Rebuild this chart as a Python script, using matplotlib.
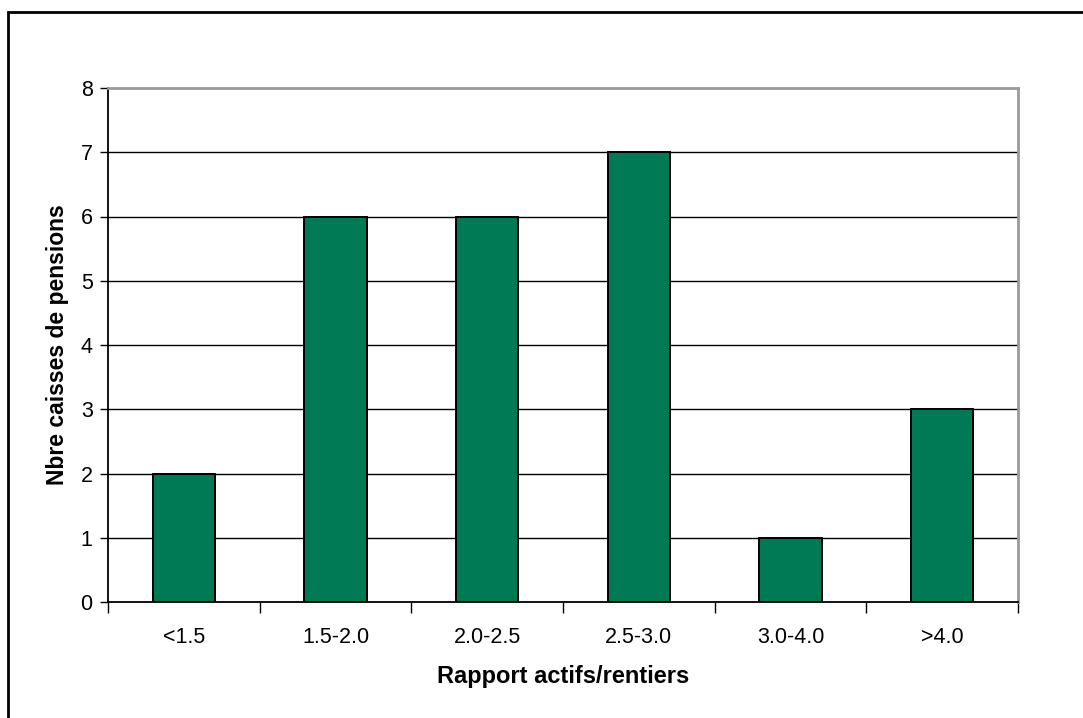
import matplotlib
matplotlib.use("Agg")
import matplotlib.pyplot as plt
from matplotlib.patches import Rectangle
import numpy as np

categories = ["<1.5", "1.5-2.0", "2.0-2.5", "2.5-3.0", "3.0-4.0", ">4.0"]
counts = [2, 6, 6, 7, 1, 3]
y_ticks = [0, 1, 2, 3, 4, 5, 6, 7, 8]

plt.rcParams["font.family"] = ["Liberation Sans", "DejaVu Sans"]

W, H = 1083, 718
fig = plt.figure(figsize=(W / 100, H / 100), dpi=100)

# outer chart frame (open towards the right and bottom edges)
fig.patches.append(Rectangle((8 / W, -0.2), 1.2, 1.2 - 12 / H, transform=fig.transFigure,
                             fill=False, edgecolor="black", linewidth=2))

left, right, top, bottom = 108, 1018, 88, 602
ax = fig.add_axes([left / W, 1 - bottom / H, (right - left) / W, (bottom - top) / H])

x = np.arange(len(categories)) + 0.5
ax.bar(x, counts, width=0.41, color="#007A55", edgecolor="black", linewidth=1.4, zorder=3)

ax.set_xlim(0, len(categories))
ax.set_ylim(0, 8)
ax.set_yticks(y_ticks)
ax.set_xticks(np.arange(len(categories) + 1))
ax.set_xticklabels([])
ax.set_xticks(x, minor=True)
ax.set_xticklabels(categories, minor=True)
ax.tick_params(axis="x", which="minor", length=0, pad=18, labelsize=15.5)
ax.tick_params(axis="x", which="major", length=8, width=1, direction="out")
ax.tick_params(axis="y", length=6, width=1, direction="out", labelsize=15.5, pad=5)

for v in y_ticks[1:-1]:
    ax.axhline(v, color="black", linewidth=1, zorder=1)

ax.spines["left"].set_color("black")
ax.spines["bottom"].set_color("black")
ax.spines["left"].set_linewidth(1.3)
ax.spines["bottom"].set_linewidth(1.3)
ax.spines["top"].set_color("#9a9a9a")
ax.spines["right"].set_color("#9a9a9a")
ax.spines["top"].set_linewidth(2)
ax.spines["right"].set_linewidth(2)

ax.set_ylabel("Nbre caisses de pensions", fontsize=16.5, fontweight="bold", va="center")
ax.set_xlabel("Rapport actifs/rentiers", fontsize=17, fontweight="bold", va="center")
ax.yaxis.set_label_coords((58 - left) / (right - left), 0.5)
ax.xaxis.set_label_coords(0.5, (bottom - 677) / (bottom - top))

fig.savefig("out.png", dpi=100)
